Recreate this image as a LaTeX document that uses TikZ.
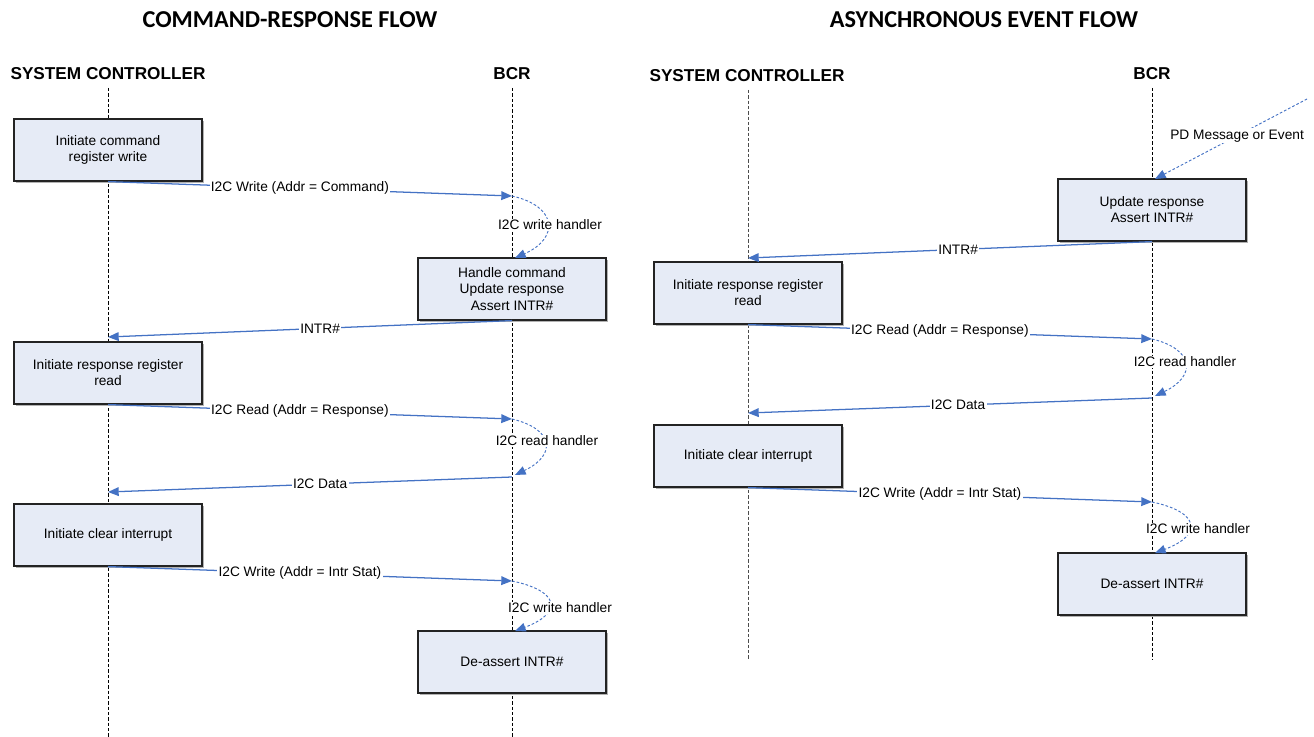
\documentclass[tikz,border=0pt]{standalone}
\usepackage{fontspec}
\setmainfont{Liberation Sans}
\newfontfamily\calib{Carlito}
\usetikzlibrary{arrows.meta,shadows}
\definecolor{arrblue}{RGB}{68,114,196}
\definecolor{boxfill}{RGB}{230,235,246}
\definecolor{boxline}{RGB}{35,35,35}
\begin{document}
\begin{tikzpicture}[x=0.75pt,y=-0.75pt,
  stepbox/.style={draw=boxline, fill=boxfill, line width=0.9pt, minimum width=141pt, minimum height=46.5pt,
    align=center, inner sep=0pt, font=\fontsize{10.3}{12.1}\selectfont,
    drop shadow={shadow xshift=1.2pt, shadow yshift=-1.2pt, fill=black!30, opacity=1}},
  msg/.style={draw=arrblue, line width=0.95pt, -{Triangle[length=8pt,width=6.5pt]}},
  hand/.style={draw=arrblue, line width=0.7pt, dash pattern=on 2pt off 1.5pt, -{Triangle[length=8pt,width=6.5pt]}},
  lbl/.style={fill=white, inner sep=1pt, font=\fontsize{10.3}{12.1}\selectfont, text=black},
  life/.style={draw=black, line width=0.55pt, dash pattern=on 2.5pt off 1.5pt},
  hdr/.style={font=\fontsize{12.9}{14}\selectfont\bfseries, inner sep=2pt},
  ttl/.style={font=\calib\fontsize{18.2}{20}\selectfont\bfseries, inner sep=0pt}]
\useasboundingbox (0,0) rectangle (1314,737);

% ---------- titles ----------
\node[ttl] (t1) at (290,20) {COMMAND-RESPONSE FLOW};
\node[ttl] (t2) at (984,20) {ASYNCHRONOUS EVENT FLOW};

% ---------- left diagram ----------
\node[hdr] (hSC) at (108,74) {SYSTEM CONTROLLER};
\node[hdr] (hBC) at (512,74) {BCR};
\coordinate (eSC) at (108,737);
\coordinate (eBC) at (512,737);
\draw[life] (108,88) -- (eSC);
\draw[life] (512,88) -- (eBC);

\node[stepbox] (B1) at (108,150) {Initiate command\\register write};
\node[stepbox] (B2) at (512,289) {Handle command\\Update response\\Assert INTR\#};
\node[stepbox] (B3) at (108,373) {Initiate response register\\read};
\node[stepbox] (B4) at (108,535) {Initiate clear interrupt};
\node[stepbox] (B5) at (512,662) {De-assert INTR\#};

\coordinate (w1) at (512,196);
\coordinate (w1e) at (515,258);
\coordinate (i1) at (108,337);
\coordinate (r1) at (512,419);
\coordinate (r1e) at (515,475);
\coordinate (d0) at (512,477);
\coordinate (d1) at (108,492);
\coordinate (w2) at (512,581);
\coordinate (w2e) at (515,631);

\draw[msg] (B1.south) -- (w1) node[lbl, pos=0.475] {I2C Write (Addr = Command)};
\draw[hand] (w1) .. controls +(45,10) and +(45,-20) .. (w1e);
\node[lbl] (lh1) at (550,225) {I2C write handler};
\draw[msg] (B2.south) -- (i1) node[lbl, pos=0.475] {INTR\#};
\draw[msg] (B3.south) -- (r1) node[lbl, pos=0.475] {I2C Read (Addr = Response)};
\draw[hand] (r1) .. controls +(42,10) and +(42,-20) .. (r1e);
\node[lbl] (lh2) at (547,441) {I2C read handler};
\draw[msg] (d0) -- (d1) node[lbl, pos=0.475] {I2C Data};
\draw[msg] (B4.south) -- (w2) node[lbl, pos=0.475] {I2C Write (Addr = Intr Stat)};
\draw[hand] (w2) .. controls +(48,10) and +(48,-18) .. (w2e);
\node[lbl] (lh3) at (560,608) {I2C write handler};

% ---------- right diagram ----------
\node[hdr] (hSC2) at (747,76) {SYSTEM CONTROLLER};
\node[hdr] (hBC2) at (1152,74) {BCR};
\coordinate (eSC2) at (748,660);
\coordinate (eBC2) at (1152,660);
\draw[life, draw=black!70] (748,90) -- (eSC2);
\draw[life] (1152,88) -- (eBC2);

\node[stepbox] (R1) at (1152,210) {Update response\\Assert INTR\#};
\node[stepbox] (R2) at (748,293) {Initiate response register\\read};
\node[stepbox] (R3) at (748,456) {Initiate clear interrupt};
\node[stepbox] (R4) at (1152,584) {De-assert INTR\#};

\coordinate (p0) at (1307,99);
\coordinate (p1) at (1155,179);
\coordinate (q1) at (748,258);
\coordinate (q2) at (1152,339);
\coordinate (q2e) at (1155,396);
\coordinate (q3) at (1152,398);
\coordinate (q4) at (748,413);
\coordinate (q5) at (1152,502);
\coordinate (q5e) at (1155,553);

\draw[hand] (p0) -- (p1) node[lbl, pos=0.46] {PD Message or Event};
\draw[msg] (R1.south) -- (q1) node[lbl, pos=0.48] {INTR\#};
\draw[msg] (R2.south) -- (q2) node[lbl, pos=0.475] {I2C Read (Addr = Response)};
\draw[hand] (q2) .. controls +(42,10) and +(42,-20) .. (q2e);
\node[lbl] (lh4) at (1185,362) {I2C read handler};
\draw[msg] (q3) -- (q4) node[lbl, pos=0.48] {I2C Data};
\draw[msg] (R3.south) -- (q5) node[lbl, pos=0.475] {I2C Write (Addr = Intr Stat)};
\draw[hand] (q5) .. controls +(48,10) and +(48,-18) .. (q5e);
\node[lbl] (lh5) at (1198,529) {I2C write handler};
\end{tikzpicture}
\end{document}
